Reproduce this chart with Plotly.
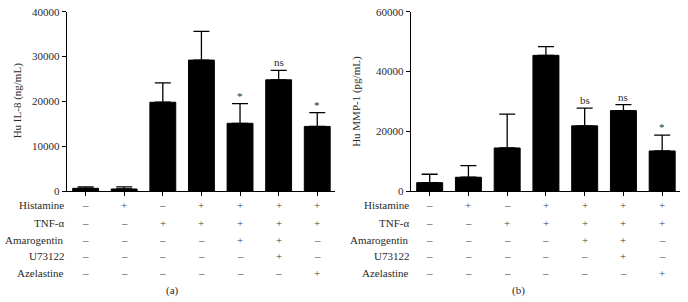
import plotly.graph_objects as go

W, H = 688, 302

groups = list(range(7))
il8_values = [600, 450, 19800, 29200, 15100, 24800, 14400]
il8_errors = [300, 450, 4300, 6400, 4400, 2100, 3100]
il8_marks = ["", "", "", "", "*", "ns", "*"]

mmp1_values = [2800, 4600, 14400, 45400, 21800, 26900, 13400]
mmp1_errors = [2800, 3900, 11300, 2900, 5900, 2000, 5300]
mmp1_marks = ["", "", "", "", "bs", "ns", "*"]

row_labels = ["Histamine", "TNF-α", "Amarogentin", "U73122", "Azelastine"]
row_signs = [
    ["–", "+", "–", "+", "+", "+", "+"],
    ["–", "–", "+", "+", "+", "+", "+"],
    ["–", "–", "–", "–", "+", "+", "–"],
    ["–", "–", "–", "–", "–", "+", "–"],
    ["–", "–", "–", "–", "–", "–", "+"],
]
il8_ticks = [0, 10000, 20000, 30000, 40000]
mmp1_ticks = [0, 20000, 40000, 60000]

FONT = "Liberation Serif, DejaVu Serif, serif"
TXT = "#2a2a2a"
FS = 11
fig = go.Figure()

def px_x(p):
    return p / W

def px_y(p):
    return 1 - p / H

panels = [
    dict(vals=il8_values, errs=il8_errors, marks=il8_marks, xa="x", ya="y",
         x0=66.7, x1=335, ymax=40000, ticks=il8_ticks, title="Hu IL-8 (ng/mL)",
         title_x=17, label="(a)", label_x=172, lab_right=66),
    dict(vals=mmp1_values, errs=mmp1_errors, marks=mmp1_marks, xa="x2", ya="y2",
         x0=410.7, x1=680, ymax=60000, ticks=mmp1_ticks, title="Hu MMP-1 (pg/mL)",
         title_x=356.5, label="(b)", label_x=518, lab_right=411),
]

y_top, y_bot = 11.7, 191
row_y = [205, 222.5, 240, 256, 272.5]

annotations = []
for i, p in enumerate(panels):
    fig.add_trace(go.Bar(
        x=groups, y=p["vals"], xaxis=p["xa"], yaxis=p["ya"],
        width=0.67, marker=dict(color="black", line=dict(color="black", width=1)),
        error_y=dict(type="data", array=p["errs"], arrayminus=[0]*7, symmetric=False,
                     color="black", thickness=1.3, width=8),
        showlegend=False, hoverinfo="skip",
    ))
    xa_key = "xaxis" if i == 0 else "xaxis2"
    ya_key = "yaxis" if i == 0 else "yaxis2"
    fig.update_layout(**{
        xa_key: dict(domain=[px_x(p["x0"]), px_x(p["x1"])], range=[-0.49, 6.46],
                     showline=True, linecolor="black", linewidth=1,
                     ticks="outside", ticklen=4, tickcolor="black", tickwidth=1,
                     tickvals=groups, showticklabels=False, showgrid=False,
                     zeroline=False, anchor="y" if i == 0 else "y2", fixedrange=True,
                     automargin=False),
        ya_key: dict(domain=[px_y(y_bot), px_y(y_top)], range=[0, p["ymax"]],
                     showline=True, linecolor="black", linewidth=1,
                     ticks="outside", ticklen=4, tickcolor="black", tickwidth=1,
                     tickvals=p["ticks"], ticktext=[str(t) for t in p["ticks"]],
                     tickfont=dict(family=FONT, size=FS, color=TXT),
                     showgrid=False, zeroline=False,
                     anchor="x" if i == 0 else "x2", fixedrange=True,
                     automargin=False),
    })
    for g, v, e, m in zip(groups, p["vals"], p["errs"], p["marks"]):
        if m:
            annotations.append(dict(x=g, y=v + e, xref=p["xa"], yref=p["ya"], text=m,
                                    showarrow=False, yanchor="bottom", yshift=0,
                                    font=dict(family=FONT, size=FS, color=TXT)))
    annotations.append(dict(x=px_x(p["title_x"]), y=px_y((y_top + y_bot) / 2),
                            xref="paper", yref="paper", text=p["title"], textangle=-90,
                            showarrow=False, xanchor="center", yanchor="middle",
                            font=dict(family=FONT, size=FS, color=TXT)))
    for r, (lab, signs) in enumerate(zip(row_labels, row_signs)):
        annotations.append(dict(x=px_x(p["lab_right"]), y=px_y(row_y[r]), xref="paper",
                                yref="paper", text=lab, showarrow=False,
                                xanchor="right", yanchor="middle",
                                font=dict(family=FONT, size=FS, color=TXT)))
        for g, s in zip(groups, signs):
            annotations.append(dict(x=g, y=px_y(row_y[r]), xref=p["xa"], yref="paper",
                                    text=s, showarrow=False, xanchor="center",
                                    yanchor="middle",
                                    font=dict(family=FONT, size=FS, color="#444")))
    annotations.append(dict(x=px_x(p["label_x"]), y=px_y(290), xref="paper", yref="paper",
                            text=p["label"], showarrow=False, xanchor="center",
                            yanchor="middle",
                            font=dict(family=FONT, size=FS, color=TXT)))

fig.update_layout(width=W, height=H, margin=dict(l=0, r=0, t=0, b=0, pad=0),
                  template="none",
                  paper_bgcolor="white", plot_bgcolor="white",
                  annotations=annotations,
                  font=dict(family=FONT, size=FS, color=TXT))

fig.write_html("out.html", config={"responsive": False, "displayModeBar": False},
               post_script="document.body.style.margin='0';document.body.style.overflow='hidden';")
